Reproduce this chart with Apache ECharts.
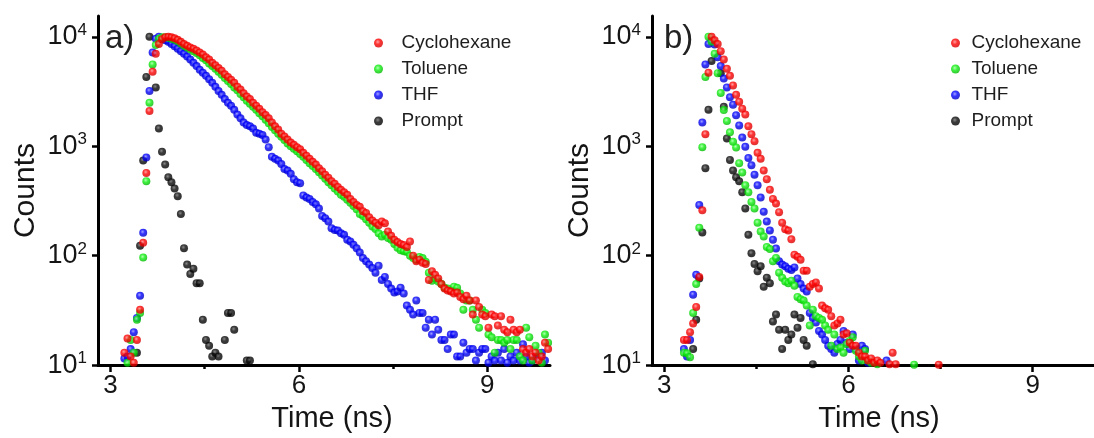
<!DOCTYPE html>
<html>
<head>
<meta charset="utf-8">
<script src="https://cdn.jsdelivr.net/npm/echarts@6/dist/echarts.min.js"></script>
<style>html,body{margin:0;padding:0;background:#fff;}#chart{width:1094px;height:438px;}</style>
</head>
<body>
<div id="chart"></div>
<script>
// Time channels (ns)
const timeNs = [
  3.22,3.27,3.32,3.37,3.42,3.47,3.52,3.57,3.62,3.67,
  3.72,3.77,3.82,3.87,3.92,3.97,4.02,4.07,4.12,4.17,
  4.22,4.27,4.32,4.37,4.42,4.47,4.52,4.57,4.62,4.67,
  4.72,4.77,4.82,4.87,4.92,4.97,5.02,5.07,5.12,5.17,
  5.22,5.27,5.32,5.37,5.42,5.47,5.52,5.57,5.62,5.67,
  5.72,5.77,5.82,5.87,5.92,5.97,6.02,6.07,6.12,6.17,
  6.22,6.27,6.32,6.37,6.42,6.47,6.52,6.57,6.62,6.67,
  6.72,6.77,6.82,6.87,6.92,6.97,7.02,7.07,7.12,7.17,
  7.22,7.27,7.32,7.37,7.42,7.47,7.52,7.57,7.62,7.67,
  7.72,7.77,7.82,7.87,7.92,7.97,8.02,8.07,8.12,8.17,
  8.22,8.27,8.32,8.37,8.42,8.47,8.52,8.57,8.62,8.67,
  8.72,8.77,8.82,8.87,8.92,8.97,9.02,9.07,9.12,9.17,
  9.22,9.27,9.32,9.37,9.42,9.47,9.52,9.57,9.62,9.67,
  9.72,9.77,9.82,9.87,9.92,9.97,10.02
];

const seriesNames = ['Cyclohexane', 'Toluene', 'THF', 'Prompt'];
const xTickValues = [3, 6, 9];
const xMinorTickValues = [4.5, 7.5];
const yTickValues = [10, 100, 1000, 10000];

// Panel a)
const cycloA = [
  13,17.5,12,10.5,17,32,131,570,2100,4800,
  7000,8600,9500,9900,10000,9900,9700,9400,9000,8600,
  8300,8000,7800,7500,7200,6900,6500,6200,5800,5500,
  5200,4900,4550,4300,4050,3800,3500,3300,3050,2850,
  2700,2500,2350,2200,2050,1930,1800,1650,1520,1420,
  1300,1230,1150,1080,1030,980,940,870,820,770,
  720,680,630,590,550,515,480,455,425,400,
  380,360,330,310,290,280,255,245,225,210,
  200,190,205,198,166,152,140,133,128,125,
  120,135,100,89,92,86,84,60,72,67,
  62,55,50,48,47,45,46,42,40,43,
  39,29,39,34,29,28,22,29,28,23,
  28,21,20,26,21,20,21,14,13,14,
  12,13,11,12,16,14,10
];
const tolueneA = [
  null,10.5,17,13,26,30,96,480,2500,5600,
  8400,9600,9900,9900,9800,9600,9400,9100,8700,8300,
  8000,7700,7400,7100,6800,6400,6100,5700,5400,5100,
  4800,4500,4200,3950,3700,3450,3250,3000,2800,2600,
  2450,2300,2150,2000,1880,1750,1620,1500,1400,1300,
  1220,1140,1060,1000,950,900,850,800,750,700,
  660,620,580,540,505,470,440,410,385,360,
  345,325,305,285,265,240,230,215,200,185,
  175,160,150,155,145,140,128,118,112,110,
  108,100,95,92,97,95,88,70,59,62,
  58,55,51,50,48,52,51,45,32,39,
  39,32,26,22,32,30,19,18,13,17,
  17,16,17,14,17,17,12,11,22,18,
  11,15,13,10.5,19,16,18
];
const thfA = [
  11.5,12,14,20,27,43,162,790,3200,7200,
  9600,10000,9700,9300,9000,8600,8200,7800,7400,7000,
  6600,6200,5800,5400,5000,4700,4400,4100,3800,3500,
  3200,2950,2700,2500,2340,2150,1950,1800,1650,1560,
  1520,1450,1330,1300,1270,1150,980,800,770,740,
  690,620,600,560,500,470,460,355,340,330,
  310,295,270,230,220,205,178,172,170,160,
  155,140,135,126,117,107,95,89,83,77,
  70,81,60,64,55,50,46,47,51,45,
  35,32,29,39,30,30,22,26,19,26,
  21,17,17,14,19,19,12,12,16,13,
  14,14,11,13,14,14,10.5,12,11,13,
  11,14,10.5,12,11,13,11,15.5,12,10.5,
  11,12,null,13,11,null,null
];
const promptA = [
  null,null,null,null,13,123,740,4300,10000,null,
  3450,1450,890,680,520,470,410,350,240,117,
  83,68,76,56,56,26,17,15,12,13,
  12,null,17,30,30,21,null,null,null,11,
  11
];

// Panel b)
const cycloB = [
  null,null,17,17,20,24,34,64,260,1290,
  4700,10000,9300,8600,7400,6200,5100,4400,3600,2950,
  2550,2200,1950,1520,1290,1110,870,770,600,500,
  400,330,300,250,200,174,170,141,102,98,
  92,73,73,52,55,57,50,35,33,32,
  28,23,24,26,19,19.5,16,15,15,13,
  12,12,11,11.5,10.5,11,10.5,null,null,10.2,
  13,10.2,null,null,null,null,null,null,null,null,
  null,null,null,null,null,10.1
];
const tolueneB = [
  null,null,13,12.8,11.8,30,55,180,980,4300,
  10000,9000,7000,4650,3070,2140,1700,1340,1100,975,
  700,575,440,380,310,270,200,166,150,120,
  115,89,95,70,63,58,56,59,53,42,
  40,39,35,23,32,28,27,26,23,21,
  15,19,14,14.5,13,15.5,16.6,18,13.5,12,
  11,13.5,11,10.5,null,10.2,null,null,null,null,
  null,null,null,null,null,null,null,10.1
];
const thfB = [
  null,null,14,12,17,44,67,290,1650,5600,
  8600,9300,8500,6500,5400,4150,3450,2800,2400,1920,
  1550,1200,990,780,670,550,440,340,252,205,
  170,140,116,89,83,80,76,74,78,62,
  55,50,47,30,27,24.5,20.5,19,17,15,
  14,13,15.6,17,20.5,16,14,19,14,11,
  15,14,10.5,null,null,null,null,null,11,null
];
const promptB = [
  null,null,null,null,null,14,26,62,163,630,
  2150,6000,null,null,4650,2300,1180,750,600,520,
  480,380,270,155,105,84,72,80,52,63,
  56,25,29,21,14,21,17,19,29,22,
  27,17,15,null,10.2
];

function pairs(vals) {
  const out = [];
  vals.forEach((v, i) => { if (v != null && i < timeNs.length) out.push([timeNs[i], v]); });
  return out;
}
function sphere(light, base, dark) {
  return { type: 'radial', x: 0.42, y: 0.38, r: 0.62,
    colorStops: [{ offset: 0, color: light }, { offset: 0.45, color: base }, { offset: 1, color: dark }] };
}
const colors = {
  Cyclohexane: sphere('#ff8a8a', '#ff0000', '#d40000'),
  Toluene: sphere('#9cff9c', '#10f010', '#00b800'),
  THF: sphere('#8a8aff', '#0000ff', '#0000c0'),
  Prompt: sphere('#6a6a6a', '#0a0a0a', '#000000')
};
const FONT = "'Liberation Sans', Arial, sans-serif";
const TXT = '#151515';

function xAxes(grid, padLeft) {
  return [{
    type: 'value', gridIndex: grid, min: 2.8, max: 10, position: 'bottom',
    axisLine: { show: true, onZero: false, lineStyle: { color: '#000', width: 3 } },
    axisTick: { show: true, inside: false, length: 7, lineStyle: { color: '#000', width: 2.5 }, customValues: xTickValues },
    axisLabel: { customValues: xTickValues, fontSize: 26, margin: 8, color: TXT, fontFamily: FONT },
    splitLine: { show: false },
    name: 'Time (ns)', nameLocation: 'middle', nameGap: 37,
    nameTextStyle: { fontSize: 29, color: TXT, fontFamily: FONT, padding: [0, 0, 0, padLeft] }
  }, {
    type: 'value', gridIndex: grid, min: 2.8, max: 10, position: 'bottom',
    axisLine: { show: false },
    axisTick: { show: true, inside: false, length: 4, lineStyle: { color: '#000', width: 2.5 }, customValues: xMinorTickValues },
    axisLabel: { show: false },
    splitLine: { show: false }
  }];
}
function yAxis(grid) {
  return {
    type: 'log', logBase: 10, gridIndex: grid, min: 10, max: 15500,
    axisLine: { show: true, onZero: false, lineStyle: { color: '#000', width: 3 } },
    axisTick: { show: true, inside: false, length: 6, lineStyle: { color: '#000', width: 2.5 }, customValues: yTickValues },
    axisLabel: {
      customValues: yTickValues, margin: 11, color: TXT, fontFamily: FONT,
      formatter: v => '{b|10}{s|' + Math.round(Math.log10(v)) + '}',
      rich: {
        b: { fontSize: 27, lineHeight: 30, color: TXT, fontFamily: FONT },
        s: { fontSize: 17, lineHeight: 17, verticalAlign: 'top', color: TXT, fontFamily: FONT }
      }
    },
    splitLine: { show: false },
    name: 'Counts', nameLocation: 'middle', nameGap: 57,
    nameTextStyle: { fontSize: 30, color: TXT, fontFamily: FONT }
  };
}
function makeSeries(names, arrays, grid) {
  return names.map((n, k) => ({
    type: 'scatter', name: n, xAxisIndex: grid * 2, yAxisIndex: grid,
    data: pairs(arrays[k]), symbol: 'circle', symbolSize: 8, clip: true,
    itemStyle: { color: colors[n] }, z: 2 + (3 - k),
    emphasis: { disabled: true }
  }));
}
function legend(left, width) {
  return {
    orient: 'vertical', left: left, top: 33, padding: 0, data: seriesNames,
    icon: 'circle', itemWidth: width, itemHeight: 9, itemGap: 6, selectedMode: false,
    textStyle: { fontSize: 19, lineHeight: 20, color: '#1e1e1e', fontFamily: FONT }
  };
}

const chart = echarts.init(document.getElementById('chart'));
chart.setOption({
  animation: false,
  backgroundColor: '#fff',
  title: [
    { text: 'a)', left: 105, top: 22, padding: 0, textStyle: { fontSize: 33, fontWeight: 'normal', color: '#222', fontFamily: FONT } },
    { text: 'b)', left: 664, top: 22, padding: 0, textStyle: { fontSize: 33, fontWeight: 'normal', color: '#222', fontFamily: FONT } }
  ],
  legend: [legend(374, 36), legend(951, 22)],
  grid: [
    { left: 98, top: 16, width: 452, height: 352 },
    { left: 652, top: 16, width: 452, height: 352 }
  ],
  xAxis: [].concat(xAxes(0, 16), xAxes(1, 12)),
  yAxis: [yAxis(0), yAxis(1)],
  series: [].concat(
    makeSeries(seriesNames, [cycloA, tolueneA, thfA, promptA], 0),
    makeSeries(seriesNames, [cycloB, tolueneB, thfB, promptB], 1)
  )
});
</script>
</body>
</html>
